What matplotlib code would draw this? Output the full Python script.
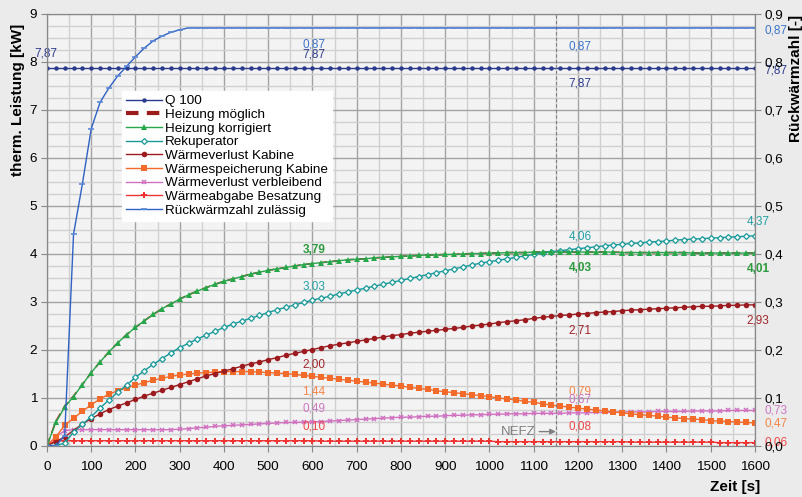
import numpy as np
import matplotlib.pyplot as plt

plt.rcParams['font.family'] = ['Liberation Sans', 'DejaVu Sans']

# Zeitachse (20 s Raster)
zeit = np.arange(0, 1601, 20)

q100 = [7.87, 7.87, 7.87, 7.87, 7.87, 7.87, 7.87, 7.87, 7.87, 7.87,
        7.87, 7.87, 7.87, 7.87, 7.87, 7.87, 7.87, 7.87, 7.87, 7.87,
        7.87, 7.87, 7.87, 7.87, 7.87, 7.87, 7.87, 7.87, 7.87, 7.87,
        7.87, 7.87, 7.87, 7.87, 7.87, 7.87, 7.87, 7.87, 7.87, 7.87,
        7.87, 7.87, 7.87, 7.87, 7.87, 7.87, 7.87, 7.87, 7.87, 7.87,
        7.87, 7.87, 7.87, 7.87, 7.87, 7.87, 7.87, 7.87, 7.87, 7.87,
        7.87, 7.87, 7.87, 7.87, 7.87, 7.87, 7.87, 7.87, 7.87, 7.87,
        7.87, 7.87, 7.87, 7.87, 7.87, 7.87, 7.87, 7.87, 7.87, 7.87,
        7.87]

heizung_korr = [0.00, 0.48, 0.80, 1.02, 1.27, 1.52, 1.74, 1.95, 2.14, 2.31,
                2.46, 2.60, 2.73, 2.85, 2.95, 3.05, 3.14, 3.22, 3.29, 3.36,
                3.42, 3.47, 3.52, 3.57, 3.61, 3.65, 3.68, 3.71, 3.74, 3.77,
                3.79, 3.81, 3.83, 3.85, 3.87, 3.88, 3.89, 3.91, 3.92, 3.93,
                3.94, 3.95, 3.96, 3.97, 3.97, 3.98, 3.98, 3.99, 4.00, 4.00,
                4.01, 4.01, 4.02, 4.02, 4.02, 4.03, 4.03, 4.03, 4.03, 4.03,
                4.03, 4.03, 4.03, 4.03, 4.03, 4.02, 4.02, 4.02, 4.02, 4.02,
                4.02, 4.02, 4.02, 4.01, 4.01, 4.01, 4.01, 4.01, 4.01, 4.01,
                4.01]

heizung_mgl = [0.00, 0.50, 0.82, 1.03, 1.27, 1.52, 1.74, 1.95, 2.14, 2.31,
               2.46, 2.60, 2.73, 2.85, 2.95, 3.05, 3.14, 3.22, 3.29, 3.36,
               3.42, 3.47, 3.52, 3.57, 3.61, 3.65, 3.68, 3.71, 3.74, 3.77,
               3.79, 3.81, 3.83, 3.85, 3.87, 3.88, 3.89, 3.91, 3.92, 3.93,
               3.94, 3.95, 3.96, 3.97, 3.97, 3.98, 3.98, 3.99, 4.00, 4.00,
               4.01, 4.01, 4.02, 4.02, 4.02, 4.03, 4.03, 4.03, 4.03, 4.03,
               4.03, 4.03, 4.03, 4.03, 4.03, 4.02, 4.02, 4.02, 4.02, 4.02,
               4.02, 4.02, 4.02, 4.01, 4.01, 4.01, 4.01, 4.01, 4.01, 4.01,
               4.01]

rekuperator = [0.00, 0.00, 0.05, 0.28, 0.44, 0.60, 0.78, 0.95, 1.11, 1.26,
               1.42, 1.56, 1.69, 1.81, 1.93, 2.04, 2.13, 2.22, 2.30, 2.38,
               2.46, 2.53, 2.59, 2.65, 2.71, 2.77, 2.83, 2.88, 2.93, 2.98,
               3.03, 3.07, 3.11, 3.16, 3.20, 3.24, 3.28, 3.32, 3.36, 3.40,
               3.44, 3.48, 3.52, 3.56, 3.60, 3.64, 3.68, 3.72, 3.76, 3.80,
               3.83, 3.86, 3.89, 3.92, 3.95, 3.98, 4.01, 4.04, 4.06, 4.08,
               4.10, 4.12, 4.14, 4.16, 4.18, 4.19, 4.21, 4.22, 4.24, 4.25,
               4.26, 4.28, 4.29, 4.30, 4.31, 4.32, 4.33, 4.34, 4.35, 4.36,
               4.37]

verlust_kabine = [0.00, 0.08, 0.18, 0.31, 0.45, 0.56, 0.66, 0.75, 0.82, 0.89,
                  0.96, 1.03, 1.09, 1.15, 1.21, 1.27, 1.33, 1.39, 1.45, 1.50,
                  1.55, 1.60, 1.65, 1.70, 1.74, 1.79, 1.83, 1.88, 1.92, 1.96,
                  2.00, 2.04, 2.08, 2.11, 2.14, 2.17, 2.20, 2.23, 2.26, 2.29,
                  2.31, 2.34, 2.36, 2.38, 2.40, 2.42, 2.44, 2.46, 2.49, 2.51,
                  2.53, 2.56, 2.58, 2.60, 2.62, 2.65, 2.67, 2.69, 2.71, 2.72,
                  2.74, 2.75, 2.77, 2.78, 2.79, 2.81, 2.82, 2.83, 2.84, 2.85,
                  2.86, 2.87, 2.88, 2.89, 2.90, 2.90, 2.91, 2.92, 2.92, 2.93,
                  2.93]

speicherung = [0.00, 0.18, 0.42, 0.57, 0.71, 0.85, 0.97, 1.07, 1.14, 1.20,
               1.26, 1.31, 1.36, 1.40, 1.44, 1.47, 1.49, 1.51, 1.52, 1.53,
               1.54, 1.54, 1.54, 1.54, 1.53, 1.52, 1.51, 1.50, 1.48, 1.46,
               1.44, 1.42, 1.40, 1.38, 1.36, 1.34, 1.32, 1.30, 1.28, 1.26,
               1.24, 1.21, 1.19, 1.17, 1.14, 1.12, 1.10, 1.08, 1.06, 1.04,
               1.02, 0.99, 0.97, 0.95, 0.92, 0.90, 0.87, 0.84, 0.82, 0.80,
               0.78, 0.76, 0.74, 0.72, 0.70, 0.68, 0.66, 0.64, 0.63, 0.61,
               0.59, 0.58, 0.56, 0.55, 0.54, 0.52, 0.51, 0.50, 0.49, 0.48,
               0.47]

verlust_rest = [0.00, 0.18, 0.31, 0.33, 0.33, 0.33, 0.33, 0.33, 0.33, 0.33,
                0.33, 0.33, 0.33, 0.33, 0.33, 0.34, 0.35, 0.37, 0.38, 0.40,
                0.41, 0.42, 0.43, 0.44, 0.45, 0.46, 0.47, 0.48, 0.48, 0.49,
                0.49, 0.50, 0.51, 0.52, 0.53, 0.54, 0.55, 0.56, 0.57, 0.58,
                0.59, 0.59, 0.60, 0.61, 0.61, 0.62, 0.63, 0.63, 0.64, 0.64,
                0.65, 0.65, 0.66, 0.66, 0.66, 0.67, 0.67, 0.67, 0.67, 0.68,
                0.68, 0.68, 0.69, 0.69, 0.69, 0.70, 0.70, 0.70, 0.70, 0.71,
                0.71, 0.71, 0.71, 0.72, 0.72, 0.72, 0.72, 0.73, 0.73, 0.73,
                0.73]

besatzung = [0.00, 0.10, 0.10, 0.10, 0.10, 0.10, 0.10, 0.10, 0.10, 0.10,
             0.10, 0.10, 0.10, 0.10, 0.10, 0.10, 0.10, 0.10, 0.10, 0.10,
             0.10, 0.10, 0.10, 0.10, 0.10, 0.10, 0.10, 0.10, 0.10, 0.10,
             0.10, 0.09, 0.09, 0.09, 0.09, 0.09, 0.09, 0.09, 0.09, 0.09,
             0.09, 0.09, 0.09, 0.09, 0.09, 0.09, 0.09, 0.09, 0.09, 0.09,
             0.09, 0.08, 0.08, 0.08, 0.08, 0.08, 0.08, 0.08, 0.08, 0.08,
             0.08, 0.08, 0.08, 0.08, 0.08, 0.08, 0.07, 0.07, 0.07, 0.07,
             0.07, 0.07, 0.07, 0.07, 0.07, 0.07, 0.06, 0.06, 0.06, 0.06,
             0.06]

# Rückwärmzahl auf rechter Achse
rueckwaerm = [0.0, 0.0, 0.02, 0.44, 0.545, 0.66, 0.715, 0.745, 0.77, 0.79,
              0.81, 0.828, 0.843, 0.853, 0.861, 0.866, 0.87, 0.87, 0.87, 0.87,
              0.87, 0.87, 0.87, 0.87, 0.87, 0.87, 0.87, 0.87, 0.87, 0.87,
              0.87, 0.87, 0.87, 0.87, 0.87, 0.87, 0.87, 0.87, 0.87, 0.87,
              0.87, 0.87, 0.87, 0.87, 0.87, 0.87, 0.87, 0.87, 0.87, 0.87,
              0.87, 0.87, 0.87, 0.87, 0.87, 0.87, 0.87, 0.87, 0.87, 0.87,
              0.87, 0.87, 0.87, 0.87, 0.87, 0.87, 0.87, 0.87, 0.87, 0.87,
              0.87, 0.87, 0.87, 0.87, 0.87, 0.87, 0.87, 0.87, 0.87, 0.87,
              0.87]

# Datenbeschriftungen: Text, x, y, Farbe, fett
beschriftungen = [
    ("7,87", -2, 8.17, '#2e3b8e', False),
    ("0,87", 603, 8.36, '#3c74c9', False),
    ("7,87", 603, 8.15, '#2e3b8e', False),
    ("0,87", 1205, 8.32, '#3c74c9', False),
    ("7,87", 1205, 7.55, '#2e3b8e', False),
    ("0,87", 1647, 8.64, '#3c74c9', False),
    ("7,87", 1647, 7.82, '#2e3b8e', False),
    ("3,79", 603, 4.07, '#2c9a3e', True),
    ("3,03", 603, 3.32, '#22a0a4', False),
    ("4,06", 1205, 4.35, '#22a0a4', False),
    ("4,03", 1205, 3.69, '#2c9a3e', True),
    ("4,37", 1607, 4.66, '#22a0a4', False),
    ("4,01", 1607, 3.68, '#2c9a3e', True),
    ("2,00", 603, 1.68, '#a0262b', False),
    ("2,71", 1205, 2.39, '#a0262b', False),
    ("2,93", 1607, 2.60, '#a0262b', False),
    ("1,44", 603, 1.12, '#f58549', False),
    ("0,79", 1205, 1.13, '#f58549', False),
    ("0,47", 1647, 0.46, '#f58549', False),
    ("0,49", 603, 0.77, '#cc79c4', False),
    ("0,67", 1205, 0.96, '#cc79c4', False),
    ("0,73", 1647, 0.72, '#cc79c4', False),
    ("0,10", 603, 0.39, '#f04848', False),
    ("0,08", 1205, 0.39, '#f04848', False),
    ("0,06", 1647, 0.06, '#f04848', False),
]

fig = plt.figure(figsize=(8.03, 4.97), dpi=100, facecolor='#ebebeb')
ax = fig.add_axes([0.0585, 0.1036, 0.8817, 0.8692])
ax.set_facecolor('#f3f3f3')

ax.set_xlim(0, 1600)
ax.set_ylim(0, 9)
ax.set_xticks(np.arange(0, 1601, 100))
ax.set_xticks(np.arange(0, 1601, 50), minor=True)
ax.set_yticks(np.arange(0, 10, 1))
ax.set_yticks(np.arange(0, 9.01, 0.25), minor=True)
ax.grid(which='major', color='#a3a3a3', lw=1)
ax.grid(which='minor', color='#d0d0d0', lw=1)
ax.set_axisbelow(True)
ax.tick_params(which='major', length=4, color='#888888', labelsize=9.7, pad=3)
ax.tick_params(axis='x', which='major', pad=7)
ax.tick_params(which='minor', length=0)
for s in ax.spines.values():
    s.set_color('#888888')

# Kurven
h_mgl, = ax.plot(zeit, heizung_mgl, color='#9c1c1c', lw=1.2, ls=(0, (5, 3)), label='Heizung möglich')
h_rest, = ax.plot(zeit, verlust_rest, color='#d070c0', lw=1, marker='x', ms=3.5, mew=1.1, label='Wärmeverlust verbleibend')
h_bes, = ax.plot(zeit, besatzung, color='#ee3333', lw=1, marker='P', ms=3.8, mew=0, label='Wärmeabgabe Besatzung')
h_sp, = ax.plot(zeit, speicherung, color='#f26b2a', lw=1, marker='s', ms=4, mew=0, label='Wärmespeicherung Kabine')
h_vk, = ax.plot(zeit, verlust_kabine, color='#9b1b1f', lw=1, marker='o', ms=4, mew=0, label='Wärmeverlust Kabine')
h_rek, = ax.plot(zeit, rekuperator, color='#17999a', lw=1, marker='D', ms=3, mfc='white', mew=0.9, label='Rekuperator')
h_korr, = ax.plot(zeit, heizung_korr, color='#26a84a', lw=1, marker='^', ms=4.2, mew=0, label='Heizung korrigiert')
h_q, = ax.plot(zeit, q100, color='#2b3a8c', lw=1, marker='o', ms=3.2, mew=0, label='Q 100')

ax.axvline(1150, color='#7f7f7f', lw=0.8, ls=(0, (3, 2)))
ax.annotate('NEFZ', xy=(1150, 0.29), xytext=(1103, 0.29), color='#7f7f7f',
            fontsize=9.5, ha='right', va='center',
            arrowprops=dict(arrowstyle='-|>', color='#7f7f7f', lw=1, mutation_scale=8,
                            shrinkA=1, shrinkB=0))

ax2 = ax.twinx()
ax2.set_ylim(0, 0.9)
ax2.set_yticks(np.arange(0, 0.91, 0.1))
ax2.set_yticklabels(['0,0', '0,1', '0,2', '0,3', '0,4', '0,5', '0,6', '0,7', '0,8', '0,9'])
ax2.tick_params(length=4, color='#888888', labelsize=9.7, pad=3)
for s in ax2.spines.values():
    s.set_color('#888888')
h_rw, = ax2.plot(zeit, rueckwaerm, color='#2f62c4', lw=1, marker='_', ms=4, mew=1.2,
                 mec='#5d8ad8', label='Rückwärmzahl zulässig')

for txt, x, y, c, fett in beschriftungen:
    ax.text(x, y, txt, color=c, fontsize=8.5, ha='center', va='center',
            fontweight='bold' if fett else 'normal', zorder=10)

handles = [h_q, h_mgl, h_korr, h_rek, h_vk, h_sp, h_rest, h_bes, h_rw]
leg = ax2.legend(handles=handles, loc='upper left', bbox_to_anchor=(122 / 803, 1 - 91 / 497),
                 bbox_transform=fig.transFigure, fontsize=9.7, frameon=True, fancybox=False,
                 edgecolor='white', framealpha=1, borderaxespad=0, borderpad=0.3,
                 labelspacing=0.09, handlelength=2.7, handletextpad=0.2, numpoints=1)
h_mgl_leg = leg.get_lines()[1]
h_mgl_leg.set_linewidth(3)
h_mgl_leg.set_linestyle((0, (3, 2)))

fig.text(18 / 803, 1 - 100 / 497, 'therm. Leistung [kW]', rotation=90, ha='center', va='center',
         fontsize=11, fontweight='bold')
fig.text(796 / 803, 1 - 78 / 497, 'Rückwärmzahl [-]', rotation=90, ha='center', va='center',
         fontsize=11, fontweight='bold')
fig.text(760 / 803, 1 - 487 / 497, 'Zeit [s]', ha='right', va='center',
         fontsize=11, fontweight='bold')

fig.savefig('out.png', dpi=100, facecolor=fig.get_facecolor())
